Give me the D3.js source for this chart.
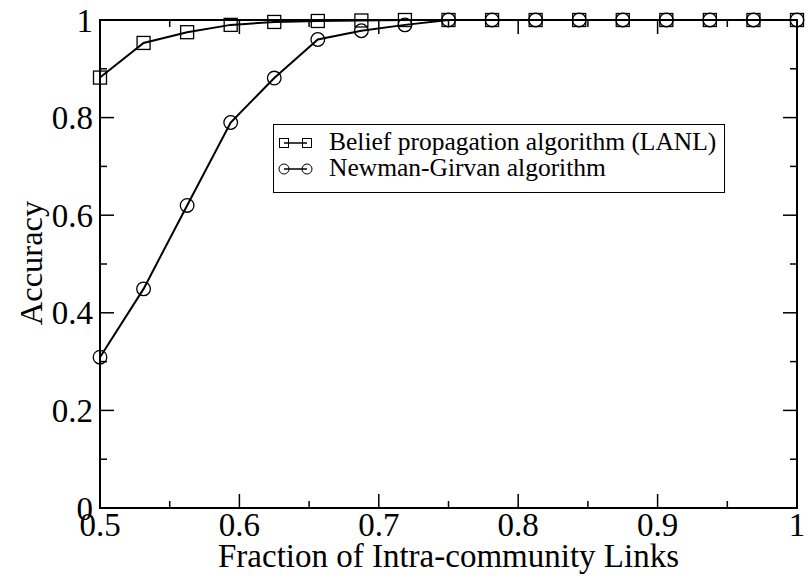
<!DOCTYPE html>
<html><head><meta charset="utf-8">
<script src="https://cdn.jsdelivr.net/npm/d3@7"></script>
</head><body style="margin:0;background:#fff">
<script>
const xValues = [0.5,0.53125,0.5625,0.59375,0.625,0.65625,0.6875,0.71875,0.75,0.78125,0.8125,0.84375,0.875,0.90625,0.9375,0.96875,1.0];
const beliefProp = [0.882,0.953,0.975,0.990,0.996,0.998,0.999,1,1,1,1,1,1,1,1,1,1];
const newmanGirvan = [0.309,0.449,0.620,0.790,0.881,0.960,0.978,0.990,1,1,1,1,1,1,1,1,1];
const xTicks = [0.5,0.6,0.7,0.8,0.9,1];
const yTicks = [0,0.2,0.4,0.6,0.8,1];
const xTickLabels = ["0.5","0.6","0.7","0.8","0.9","1"];
const yTickLabels = ["0","0.2","0.4","0.6","0.8","1"];
const seriesNames = ["Belief propagation algorithm (LANL)","Newman-Girvan algorithm"];

const W=809,H=578;
const svg=d3.select("body").append("svg").attr("width",W).attr("height",H).style("display","block");
const x=d3.scaleLinear().domain([0.5,1]).range([100,797]);
const y=d3.scaleLinear().domain([0,1]).range([508,20]);
const g=svg.append("g");
function txt(sel){return sel.style("font-family",'"Liberation Serif"');}

// frame
g.append("rect").attr("x",x(0.5)).attr("y",y(1)).attr("width",x(1)-x(0.5)).attr("height",y(0)-y(1))
 .attr("fill","none").attr("stroke","#000").attr("stroke-width",2);

// ticks
const xMinor=[0.55,0.65,0.75,0.85,0.95];
const yMinor=[0.1,0.3,0.5,0.7,0.9];
const tk=g.append("g").attr("stroke","#000").attr("stroke-width",1.5);
xTicks.forEach(v=>{tk.append("line").attr("x1",x(v)).attr("x2",x(v)).attr("y1",y(0)).attr("y2",y(0)-14);
  tk.append("line").attr("x1",x(v)).attr("x2",x(v)).attr("y1",y(1)).attr("y2",y(1)+14);});
xMinor.forEach(v=>{tk.append("line").attr("x1",x(v)).attr("x2",x(v)).attr("y1",y(0)).attr("y2",y(0)-7);
  tk.append("line").attr("x1",x(v)).attr("x2",x(v)).attr("y1",y(1)).attr("y2",y(1)+7);});
yTicks.forEach(v=>{tk.append("line").attr("x1",x(0.5)).attr("x2",x(0.5)+14).attr("y1",y(v)).attr("y2",y(v));
  tk.append("line").attr("x1",x(1)).attr("x2",x(1)-14).attr("y1",y(v)).attr("y2",y(v));});
yMinor.forEach(v=>{tk.append("line").attr("x1",x(0.5)).attr("x2",x(0.5)+7).attr("y1",y(v)).attr("y2",y(v));
  tk.append("line").attr("x1",x(1)).attr("x2",x(1)-7).attr("y1",y(v)).attr("y2",y(v));});

// tick labels
xTicks.forEach((v,i)=>txt(g.append("text")).attr("x",x(v)).attr("y",y(0)+28).attr("text-anchor","middle")
  .attr("font-size",33).text(xTickLabels[i]));
yTicks.forEach((v,i)=>txt(g.append("text")).attr("x",x(0.5)-7).attr("y",y(v)+11.5).attr("text-anchor","end")
  .attr("font-size",33).text(yTickLabels[i]));

// axis titles
txt(g.append("text")).attr("x",448.5).attr("y",567).attr("text-anchor","middle").attr("font-size",33)
  .text("Fraction of Intra-community Links");
txt(g.append("text")).attr("transform","translate(42,263) rotate(-90)").attr("text-anchor","middle").attr("font-size",32.5)
  .text("Accuracy");

// series
const line=d3.line().x(d=>x(d[0])).y(d=>y(d[1]));
const s1=xValues.map((v,i)=>[v,beliefProp[i]]);
const s2=xValues.map((v,i)=>[v,newmanGirvan[i]]);
g.append("path").attr("d",line(s1)).attr("fill","none").attr("stroke","#000").attr("stroke-width",2);
g.append("path").attr("d",line(s2)).attr("fill","none").attr("stroke","#000").attr("stroke-width",2);
g.selectAll(".sq").data(s1).enter().append("rect").attr("x",d=>x(d[0])-6.5).attr("y",d=>y(d[1])-6.5)
  .attr("width",13).attr("height",13).attr("fill","none").attr("stroke","#000").attr("stroke-width",1.3);
g.selectAll(".ci").data(s2).enter().append("circle").attr("cx",d=>x(d[0])).attr("cy",d=>y(d[1])).attr("r",6.8)
  .attr("fill","none").attr("stroke","#000").attr("stroke-width",1.3);

// legend
const lg=g.append("g");
lg.append("rect").attr("x",273.5).attr("y",124.5).attr("width",451).attr("height",68).attr("fill","#fff").attr("stroke","#000").attr("stroke-width",1);
const symY=[143,169];
lg.append("line").attr("x1",284).attr("x2",307).attr("y1",symY[0]).attr("y2",symY[0]).attr("stroke","#000").attr("stroke-width",1.5);
[284,307].forEach(cx=>lg.append("rect").attr("x",cx-4.5).attr("y",symY[0]-4.5).attr("width",9).attr("height",9).attr("fill","none").attr("stroke","#000").attr("stroke-width",1));
lg.append("line").attr("x1",284).attr("x2",307).attr("y1",symY[1]).attr("y2",symY[1]).attr("stroke","#000").attr("stroke-width",1.5);
[284,307].forEach(cx=>lg.append("circle").attr("cx",cx).attr("cy",symY[1]).attr("r",5).attr("fill","none").attr("stroke","#000").attr("stroke-width",1));
txt(lg.append("text")).attr("x",329).attr("y",150).attr("font-size",25.5).text(seriesNames[0]);
txt(lg.append("text")).attr("x",329).attr("y",176).attr("font-size",25.5).text(seriesNames[1]);
</script>
</body></html>
